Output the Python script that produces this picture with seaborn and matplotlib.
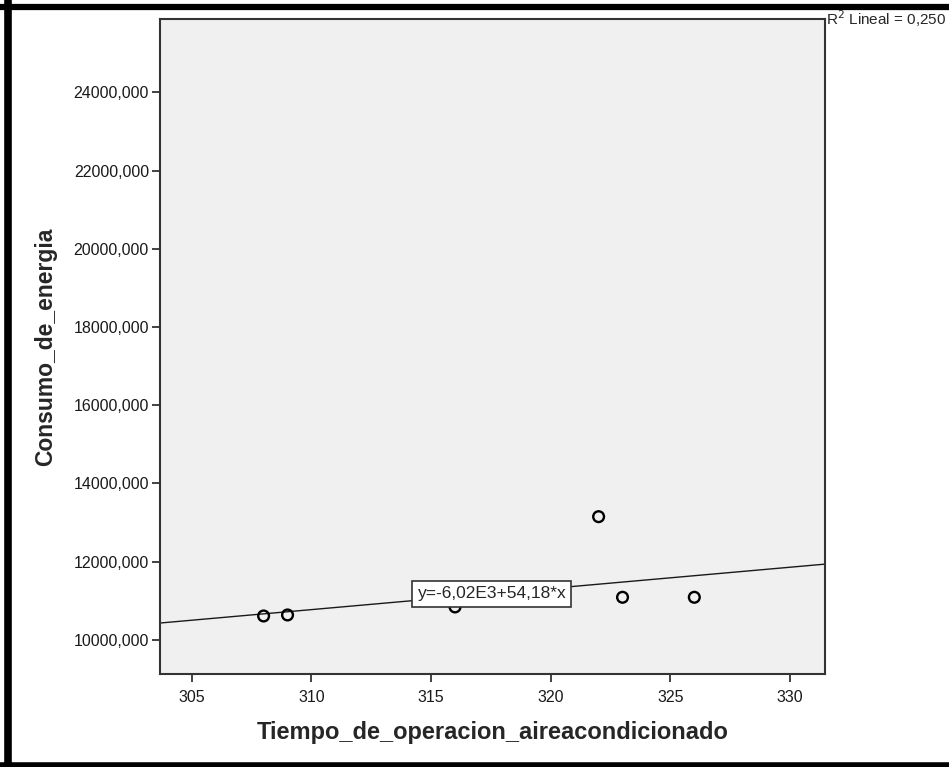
# Consumo de energia vs tiempo de operacion (dispersion con recta de ajuste)
import matplotlib
matplotlib.use('Agg')
import matplotlib.pyplot as plt
from matplotlib.lines import Line2D
import pandas as pd
import seaborn as sns

# datos
tiempo = [308, 309, 316, 322, 323, 326]
consumo = [10613, 10639, 10844, 13152, 11091, 11091]
intercepto = -6020.0
pendiente = 54.18
r2_texto = 'R$^2$ Lineal = 0,250'
ecuacion = 'y=-6,02E3+54,18*x'
x_ticks = [305, 310, 315, 320, 325, 330]
y_ticks = [10000, 12000, 14000, 16000, 18000, 20000, 22000, 24000]

df = pd.DataFrame({'Tiempo_de_operacion_aireacondicionado': tiempo,
                   'Consumo_de_energia': consumo})

sns.set_style('white')
plt.rcParams['font.family'] = ['Liberation Sans', 'DejaVu Sans']

fig = plt.figure(figsize=(9.49, 7.67), dpi=100)
ax = fig.add_axes([0.1686, 0.1209, 0.7007, 0.8539])
ax.set_facecolor('#f0f0f0')

xlim = (303.67, 331.46)
ylim = (9123, 25866)

# recta de ajuste
linea = pd.DataFrame({'x': list(xlim)})
linea['y'] = intercepto + pendiente * linea['x']
sns.lineplot(data=linea, x='x', y='y', ax=ax, color='#1a1a1a', linewidth=1.0)

sns.scatterplot(data=df, x='Tiempo_de_operacion_aireacondicionado', y='Consumo_de_energia',
                ax=ax, marker='o', s=60, facecolor='none', edgecolor='black', linewidth=1.7, zorder=3)

ax.set_xlim(*xlim)
ax.set_ylim(*ylim)
ax.set_xticks(x_ticks)
ax.set_xticklabels([str(v) for v in x_ticks])
ax.set_yticks(y_ticks)
ax.set_yticklabels([f'{v},000' for v in y_ticks])
ax.tick_params(direction='out', length=6, width=1.3, color='#333333', labelsize=11.5,
               labelcolor='#1a1a1a', pad=2, bottom=True, left=True)
ax.tick_params(axis='x', pad=5)

for s in ax.spines.values():
    s.set_color('#333333')
    s.set_linewidth(1.5)

ax.set_xlabel('Tiempo_de_operacion_aireacondicionado', fontsize=17, fontweight='bold', labelpad=12)
ax.set_ylabel('Consumo_de_energia', fontsize=16.5, fontweight='bold', labelpad=12)

# etiqueta de la ecuacion
ax.text(317.54, 11177, ecuacion, fontsize=12.5, ha='center', va='center', zorder=4,
        bbox=dict(boxstyle='square,pad=0.3', facecolor='white', edgecolor='#333333', linewidth=1.2))

# R2 fuera del area
fig.text(826 / 949, 1 - 19 / 767, r2_texto, fontsize=11, ha='left', va='center')

# marco negro exterior
fig.add_artist(Line2D([7.5 / 949, 7.5 / 949], [0, 1], color='black', linewidth=5.5))
fig.add_artist(Line2D([0, 1], [1 - 6.5 / 767, 1 - 6.5 / 767], color='black', linewidth=4.5))
fig.add_artist(Line2D([0, 1], [2.5 / 767, 2.5 / 767], color='black', linewidth=4))

fig.savefig('out.png', dpi=100)
